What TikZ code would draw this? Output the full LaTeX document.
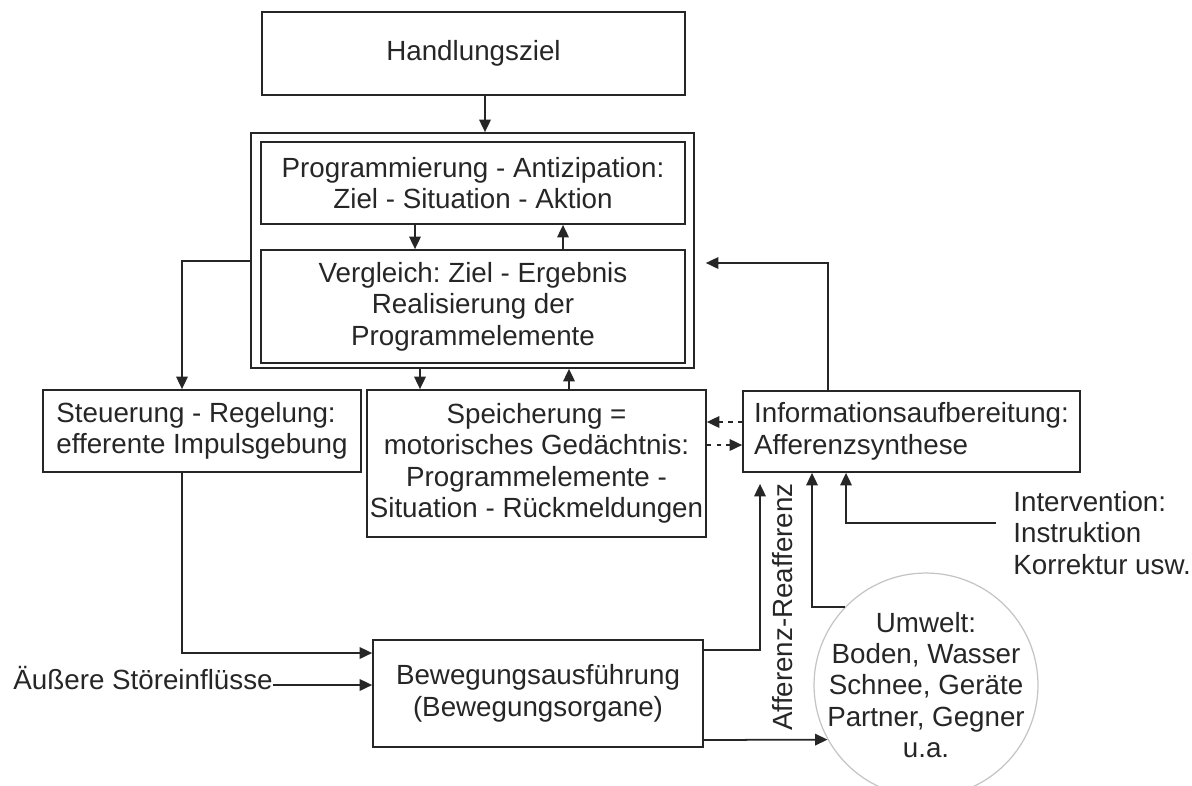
\documentclass[tikz,border=0pt]{standalone}
\usepackage{fontspec}
\setmainfont{Liberation Sans}
\usepackage{tikz}
\usetikzlibrary{arrows.meta,positioning}
\frenchspacing
\definecolor{inkgray}{HTML}{262626}
\definecolor{ringgray}{HTML}{C4C4C4}
\tikzset{
  txt/.style={font=\fontsize{15.8}{17.9}\selectfont,text=inkgray,align=center},
  stagebox/.style={txt,draw=inkgray,line width=1pt,inner sep=2pt},
  envnode/.style={circle,draw=ringgray,line width=0.7pt,minimum size=4.48cm,inner sep=0pt},
  flowedge/.style={-{Triangle[length=0.25cm,width=0.23cm]},line width=1pt,inkgray},
  dashedge/.style={flowedge,dash pattern=on 2.5pt off 3pt},
}

\begin{document}
\begin{tikzpicture}[x=0.02cm,y=-0.02cm]
  \useasboundingbox (0,0) rectangle (1192,785);
  \node[stagebox,minimum width=8.46cm,minimum height=1.66cm] (nGoal) at (473.5,53.5) {Handlungsziel};
  \node[stagebox,minimum width=8.86cm,minimum height=4.70cm] (nCore) at (472.5,250.5) {};
  \node[stagebox,minimum width=8.48cm,minimum height=1.64cm] (nProg) at (473,183) {Programmierung - Antizipation:\\Ziel - Situation - Aktion};
  \node[stagebox,minimum width=8.48cm,minimum height=2.26cm] (nComp) at (473,306.5) {Vergleich: Ziel - Ergebnis\\Realisierung der\\Programmelemente};
  \node[stagebox,align=left,minimum width=6.36cm,minimum height=1.64cm] (nCtrl) at (202,431) {Steuerung - Regelung:\\efferente Impulsgebung};
  \node[stagebox,inner xsep=1pt,minimum width=6.78cm,minimum height=2.94cm] (nMem) at (536.5,463.5) {Speicherung =\\motorisches Gedächtnis:\\Programmelemente -\\Situation - Rückmeldungen};
  \node[stagebox,align=left,minimum width=6.74cm,minimum height=1.62cm] (nInfo) at (911.5,431.5) {Informationsaufbereitung:\\Afferenzsynthese};
  \node[stagebox,minimum width=6.60cm,minimum height=2.14cm] (nExec) at (538,693.5) {Bewegungsausführung\\(Bewegungsorgane)};
  \node[envnode] (nEnv) at (926,685) {};
  \node[txt,inner sep=0pt] (nEnvText) at (nEnv) {Umwelt:\\Boden, Wasser\\Schnee, Geräte\\Partner, Gegner\\u.a.};
  \node[txt,align=left,anchor=west,inner sep=0pt] (nInterv) at (1013,533) {Intervention:\\Instruktion\\Korrektur usw.};
  \node[txt,anchor=east,inner sep=0pt] (nDist) at (273,678) {Äußere Störeinflüsse};
  \node[txt,rotate=90,inner sep=0pt] (nAff) at (783,607) {Afferenz-Reafferenz};
  \coordinate (kGoal) at (485,0);
  \coordinate (kProgDn) at (415,0);
  \coordinate (kProgUp) at (563,0);
  \coordinate (kMemDn) at (420,0);
  \coordinate (kMemUp) at (569,0);
  \coordinate (kCtrl) at (182,261);
  \coordinate (kCtrlIn) at (182,653);
  \coordinate (kDist) at (0,685);
  \coordinate (kAff) at (760,650);
  \coordinate (kOut) at (0,740);
  \coordinate (kEnv) at (812,0);
  \coordinate (kInterv) at (996,523);
  \coordinate (kIntervUp) at (846,523);
  \coordinate (kBack) at (828,263);
  \coordinate (kDashA) at (0,422);
  \coordinate (kDashB) at (0,445);
  \draw[flowedge] (nGoal.south -| kGoal) -- (nCore.north -| kGoal);
  \draw[flowedge] (nProg.south -| kProgDn) -- (nComp.north -| kProgDn);
  \draw[flowedge] (nComp.north -| kProgUp) -- (nProg.south -| kProgUp);
  \draw[flowedge] (nCore.south -| kMemDn) -- (nMem.north -| kMemDn);
  \draw[flowedge] (nMem.north -| kMemUp) -- (nCore.south -| kMemUp);
  \draw[flowedge] (nCore.west |- kCtrl) -| (nCtrl.north -| kCtrl);
  \draw[flowedge] (nCtrl.south -| kCtrlIn) -- (kCtrlIn) -- (nExec.west |- kCtrlIn);
  \draw[flowedge] (nDist.east |- kDist) -- (nExec.west |- kDist);
  \draw[flowedge,shorten >=0.22cm] (nExec.east |- kAff) -| (nInfo.south -| kAff);
  \draw[flowedge] (nExec.east |- kOut) -- (nEnv.209);
  \draw[flowedge] (nEnv.136) -| (nInfo.south -| kEnv);
  \draw[flowedge] (kInterv) -- (kIntervUp) -- (nInfo.south -| kIntervUp);
  \draw[flowedge,shorten >=0.22cm] (nInfo.north -| kBack) |- (nCore.east |- kBack);
  \draw[dashedge] (nInfo.west |- kDashA) -- (nMem.east |- kDashA);
  \draw[dashedge] (nMem.east |- kDashB) -- (nInfo.west |- kDashB);
\end{tikzpicture}
\end{document}
